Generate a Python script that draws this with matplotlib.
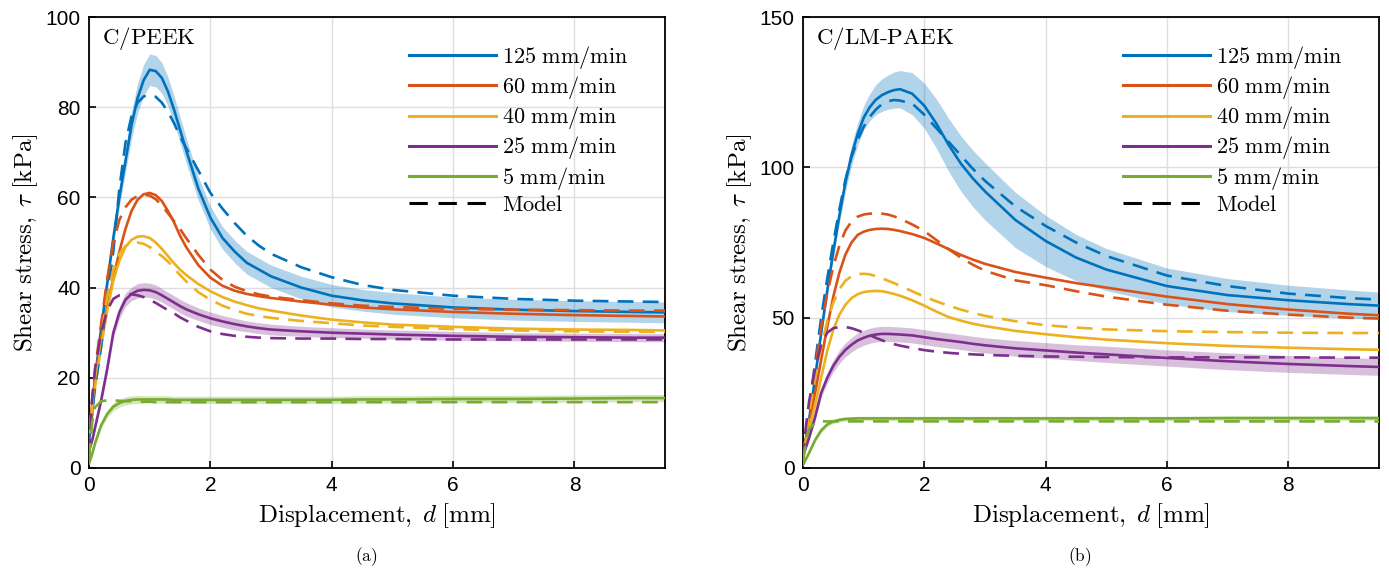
import numpy as np
import matplotlib
matplotlib.use("Agg")
import matplotlib.pyplot as plt
from matplotlib.lines import Line2D

plt.rcParams['font.family'] = ['Liberation Sans', 'DejaVu Sans']
plt.rcParams['mathtext.fontset'] = 'cm'

# displacement grid shared by every curve [mm]
d = [0, 0.05, 0.1, 0.2, 0.3, 0.4, 0.5, 0.6, 0.7, 0.8, 0.9, 1.0, 1.1, 1.2, 1.3, 1.4,
     1.5, 1.6, 1.8, 2.0, 2.2, 2.4, 2.6, 2.8, 3.0, 3.5, 4.0, 4.5, 5.0, 6.0, 7.0, 8.0,
     9.0, 9.5]

rates = ['125 mm/min', '60 mm/min', '40 mm/min', '25 mm/min', '5 mm/min']
colors = ['#0072BD', '#D95319', '#EDB120', '#7E2F8E', '#77AC30']

# ---- C/PEEK : mean test curves [kPa]
peek_125 = [6, 12, 20, 31, 41, 51, 60, 68, 76, 82, 86, 88.3, 88, 86.5, 83.5, 79.5,
            75, 70.5, 62, 55.5, 51, 48, 45.5, 44, 42.5, 40, 38.2, 37.2, 36.5, 35.6,
            35.1, 34.8, 34.6, 34.5]
peek_60 = [8, 14, 20, 29, 36, 42, 48, 53, 57, 59.5, 60.7, 61, 60.5, 59.2, 57, 54.5,
           51.5, 49, 45, 42.2, 40.4, 39.3, 38.6, 38.1, 37.7, 36.9, 36.2, 35.6, 35.2,
           34.6, 34.2, 33.9, 33.7, 33.6]
peek_40 = [8, 13, 18, 27, 35, 41.5, 46, 49, 50.6, 51.3, 51.4, 51, 50, 48.6, 47, 45.4,
           44, 42.8, 40.8, 39.2, 37.9, 36.9, 36.1, 35.4, 34.9, 33.8, 32.9, 32.3, 31.8,
           31.3, 30.9, 30.7, 30.6, 30.5]
peek_25 = [4, 6, 9, 15, 22, 30, 34.5, 37.3, 38.6, 39.3, 39.5, 39.4, 39, 38.3, 37.5, 36.7,
           35.9, 35.2, 34.1, 33.2, 32.5, 31.9, 31.4, 31, 30.7, 30.3, 30, 29.8, 29.6,
           29.3, 29.1, 29, 28.9, 28.9]
peek_5 = [1, 3, 5.5, 9.5, 12, 13.6, 14.4, 14.9, 15.1, 15.2, 15.2, 15.2, 15.2, 15.2,
          15.2, 15.1, 15.1, 15.1, 15.1, 15.1, 15.1, 15.1, 15.1, 15.1, 15.1, 15.1, 15.1,
          15.2, 15.2, 15.3, 15.3, 15.4, 15.5, 15.5]
# scatter band half-widths
peek_125_sd = [0.5, 0.8, 1, 1.3, 1.6, 1.8, 2, 2.5, 3, 3.3, 3.5, 3.5, 3.5, 3.4, 3.2, 3,
               2.9, 2.8, 2.6, 2.5, 2.5, 2.5, 2.5, 2.5, 2.5, 2.5, 2.5, 2.4, 2.4, 2.3,
               2.3, 2.3, 2.3, 2.3]
peek_25_sd = [0.5, 0.5, 0.6, 0.8, 1, 1.2, 1.4, 1.5, 1.5, 1.6, 1.6, 1.6, 1.6, 1.5, 1.5,
              1.5, 1.5, 1.5, 1.4, 1.4, 1.3, 1.3, 1.2, 1.2, 1.2, 1.1, 1.1, 1.0, 1.0,
              1.0, 0.9, 0.9, 0.9, 0.9]
peek_5_sd = [0.3, 0.4, 0.5, 0.7, 0.8, 0.9, 0.9, 0.9, 0.9, 0.9, 0.8, 0.8, 0.8, 0.8,
             0.8, 0.8, 0.8, 0.8, 0.8, 0.8, 0.8, 0.8, 0.8, 0.8, 0.8, 0.8, 0.8, 0.8,
             0.8, 0.8, 0.8, 0.8, 0.8, 0.8]

# ---- C/PEEK : model
peek_125_m = [3, 12, 18, 27, 38, 48, 62, 72, 78, 81, 82.4, 82.7, 82.3, 81, 79, 76.5,
              73.5, 71, 66, 61, 57.5, 54.3, 51.5, 49.3, 47.5, 44.5, 42.3, 40.6, 39.5,
              38.2, 37.5, 37.1, 36.9, 36.8]
peek_60_m = [3, 15, 22, 32, 42, 50, 55, 57.8, 59.5, 60.3, 60.6, 60.4, 59.6, 58.2, 56.5,
             54.8, 53, 51, 47.3, 44, 41.7, 40.2, 39.2, 38.5, 38, 37.2, 36.5, 36, 35.7,
             35.3, 35.1, 35, 34.9, 34.9]
peek_40_m = [3, 14, 20, 29, 38, 44, 47.5, 49.2, 49.9, 50, 49.7, 49, 48, 47, 45.8, 44.3,
             42.8, 41.4, 39, 37.3, 36, 35, 34.2, 33.7, 33.3, 32.6, 32.1, 31.6, 31.3,
             30.8, 30.5, 30.3, 30.2, 30.2]
peek_25_m = [3, 15, 22, 30, 35, 37.5, 38.3, 38.5, 38.5, 38.3, 37.9, 37.3, 36.6, 35.8,
             35, 34.3, 33.4, 32.7, 31.3, 30.3, 29.7, 29.3, 29.1, 28.9, 28.8, 28.7,
             28.7, 28.6, 28.6, 28.5, 28.5, 28.5, 28.5, 28.5]
peek_5_m = [2, 10, 13.5, 14.8, 15, 15, 14.9, 14.8, 14.8, 14.7, 14.7, 14.7, 14.6, 14.6,
            14.6, 14.6, 14.6, 14.6, 14.6, 14.6, 14.6, 14.6, 14.6, 14.6, 14.6, 14.6,
            14.6, 14.6, 14.6, 14.6, 14.6, 14.6, 14.6, 14.6]

# ---- C/LM-PAEK : mean test curves [kPa]
paek_125 = [5, 10, 16, 30, 45, 59, 72, 84, 95, 104, 111, 116.5, 120, 122.5, 124, 125,
            125.7, 126, 124.5, 120.5, 114.5, 107.5, 101.3, 96.3, 92, 82.5, 75.5, 70,
            66, 60.5, 57.5, 55.8, 54.5, 54]
paek_60 = [6, 10, 15, 25, 36, 47, 57, 65, 71, 75, 77.5, 78.6, 79.2, 79.5, 79.6, 79.5,
           79.2, 78.8, 77.8, 76.5, 74.7, 72.8, 70.9, 69.3, 67.9, 65.2, 63.3, 61.5, 60,
           57, 54.5, 52.7, 51.3, 50.8]
paek_40 = [6, 9, 13, 21, 30, 39, 46, 51, 54.3, 56.5, 57.8, 58.5, 58.8, 58.9, 58.8, 58.4,
           57.9, 57.3, 55.8, 54, 52, 50.2, 49, 48, 47.2, 45.6, 44.5, 43.5, 42.7, 41.5,
           40.6, 40, 39.5, 39.3]
paek_25 = [4, 7, 10, 17, 25, 30, 34, 37, 39.3, 41, 42.4, 43.3, 44, 44.4, 44.6, 44.6,
           44.5, 44.4, 44.1, 43.5, 42.9, 42.4, 41.9, 41.3, 40.8, 39.8, 39.1, 38.4,
           37.8, 36.6, 35.5, 34.6, 33.9, 33.6]
paek_5 = [1, 3, 5, 9.3, 12.5, 14.5, 15.5, 16, 16.3, 16.4, 16.5, 16.5, 16.5, 16.5, 16.5,
          16.5, 16.5, 16.5, 16.5, 16.5, 16.5, 16.5, 16.5, 16.5, 16.5, 16.5, 16.5,
          16.5, 16.5, 16.5, 16.6, 16.6, 16.6, 16.6]
paek_125_sd = [0.5, 0.8, 1, 1.3, 1.6, 1.8, 2, 2.5, 3, 3.4, 3.7, 4, 4.5, 5, 5.4, 5.7, 6,
               6.2, 7, 7.5, 8.2, 8.8, 9.2, 9.4, 9.5, 9.2, 8.5, 7.7, 7, 6, 5.5, 5,
               4.7, 4.5]
paek_25_sd = [0.5, 0.6, 0.8, 1.2, 1.5, 1.8, 2, 2.2, 2.3, 2.4, 2.5, 2.5, 2.5, 2.5, 2.5,
              2.5, 2.5, 2.5, 2.5, 2.5, 2.5, 2.5, 2.5, 2.5, 2.5, 2.6, 2.6, 2.6, 2.7,
              2.7, 2.8, 2.8, 2.8, 2.8]
paek_5_sd = [0.3, 0.4, 0.5, 0.6, 0.7, 0.7, 0.7, 0.7, 0.7, 0.7, 0.7, 0.7, 0.7, 0.7, 0.7,
             0.7, 0.7, 0.7, 0.7, 0.7, 0.7, 0.7, 0.7, 0.7, 0.7, 0.7, 0.7, 0.7, 0.7,
             0.7, 0.7, 0.7, 0.7, 0.7]

# ---- C/LM-PAEK : model
paek_125_m = [3, 12, 20, 35, 50, 63, 75, 86, 96, 103.5, 109, 113.5, 116.8, 119.2, 121,
              122, 122.4, 122.2, 121.2, 117.5, 113, 108.5, 104, 99.5, 95.5, 87, 80.5,
              75, 70.5, 64, 60.5, 58, 56.5, 56]
paek_60_m = [3, 12, 20, 33, 47, 58, 67, 74, 79, 82, 83.6, 84.3, 84.6, 84.7, 84.6, 84.3,
             83.7, 82.9, 81, 78.8, 75.8, 72.8, 70, 67.6, 65.6, 62.4, 60.8, 58.8, 57,
             54.3, 52.3, 51, 50, 49.7]
paek_40_m = [3, 11, 18, 30, 40, 49, 55, 59.5, 62.3, 63.8, 64.5, 64.6, 64.4, 63.8, 63.1,
             62.3, 61.5, 60.6, 58.8, 57, 55.4, 54, 52.7, 51.6, 50.6, 48.8, 47.5, 46.7,
             46.1, 45.5, 45.2, 45, 44.9, 44.9]
paek_25_m = [3, 14, 22, 33, 41, 45, 46.5, 46.9, 46.9, 46.5, 45.8, 45, 44.2, 43.3, 42.5,
             41.8, 41.2, 40.7, 39.9, 39.2, 38.7, 38.3, 38, 37.8, 37.6, 37.3, 37.1, 37,
             36.9, 36.8, 36.8, 36.8, 36.7, 36.7]
paek_5_m = [2, 9, 13, 15, 15.5, 15.5, 15.5, 15.5, 15.5, 15.5, 15.5, 15.5, 15.5, 15.5,
            15.5, 15.5, 15.5, 15.5, 15.5, 15.5, 15.5, 15.5, 15.5, 15.5, 15.5, 15.5,
            15.5, 15.5, 15.5, 15.5, 15.5, 15.5, 15.5, 15.5]

panels = [
    dict(title='C/PEEK', ylim=100, yticks=[0, 20, 40, 60, 80, 100],
         exp=[peek_125, peek_60, peek_40, peek_25, peek_5],
         sd={0: peek_125_sd, 3: peek_25_sd, 4: peek_5_sd},
         model=[peek_125_m, peek_60_m, peek_40_m, peek_25_m, peek_5_m], tag='(a)'),
    dict(title='C/LM-PAEK', ylim=150, yticks=[0, 50, 100, 150],
         exp=[paek_125, paek_60, paek_40, paek_25, paek_5],
         sd={0: paek_125_sd, 3: paek_25_sd, 4: paek_5_sd},
         model=[paek_125_m, paek_60_m, paek_40_m, paek_25_m, paek_5_m], tag='(b)'),
]

dash = (0, (6, 3.5))

fig = plt.figure(figsize=(13.89, 5.75), dpi=100)
lefts = [0.0641, 0.5781]
x = np.array(d)

for left, p in zip(lefts, panels):
    ax = fig.add_axes([left, 0.1861, 0.4150, 0.7843])
    for i, sd in p['sd'].items():
        y = np.array(p['exp'][i])
        ax.fill_between(x, y - np.array(sd), y + np.array(sd), color=colors[i],
                        alpha=0.3, lw=0, zorder=2)
    for i in range(5):
        ax.plot(x, p['exp'][i], color=colors[i], lw=1.9, zorder=3)
    for i in range(5):
        ax.plot(x, p['model'][i], color=colors[i], lw=1.9, ls=dash, zorder=4)

    ax.set_xlim(0, 9.5)
    ax.set_ylim(0, p['ylim'])
    ax.set_xticks([0, 2, 4, 6, 8])
    ax.set_yticks(p['yticks'])
    ax.grid(True, color='#dedede', lw=1.0, zorder=0)
    ax.set_axisbelow(True)
    ax.tick_params(direction='in', length=5, width=1.2, labelsize=15, pad=6,
                   top=False, right=False)
    for s in ax.spines.values():
        s.set_linewidth(1.3)
    ax.set_xlabel(r'$\mathrm{Displacement,}\;d\;\mathrm{[mm]}$', fontsize=18, labelpad=4)
    ax.set_ylabel(r'$\mathrm{Shear\ stress,}\;\tau\;\mathrm{[kPa]}$', fontsize=18,
                  labelpad=4)
    ax.text(0.022, 0.952, r'$\mathrm{%s}$' % p['title'].replace('-', '\\text{-}'),
            transform=ax.transAxes, fontsize=16.5, va='center', ha='left')

    handles = [Line2D([], [], color=c, lw=2.2) for c in colors]
    handles.append(Line2D([], [], color='k', lw=2.2, ls=dash))
    labels = [r'$\mathrm{%s}$' % r.replace(' ', r'\ ') for r in rates] + [r'$\mathrm{Model}$']
    ax.legend(handles, labels, loc='upper left', bbox_to_anchor=(0.555, 0.94),
              frameon=False, fontsize=16, handlelength=3.9, handletextpad=0.3,
              labelspacing=0.14, borderpad=0, borderaxespad=0)

    fig.text(left + 0.4150 / 2 - 0.008, 0.032, r'$\mathrm{%s}$' % p['tag'],
             fontsize=12.5, ha='center', va='center')

fig.savefig('out.png', dpi=100)
